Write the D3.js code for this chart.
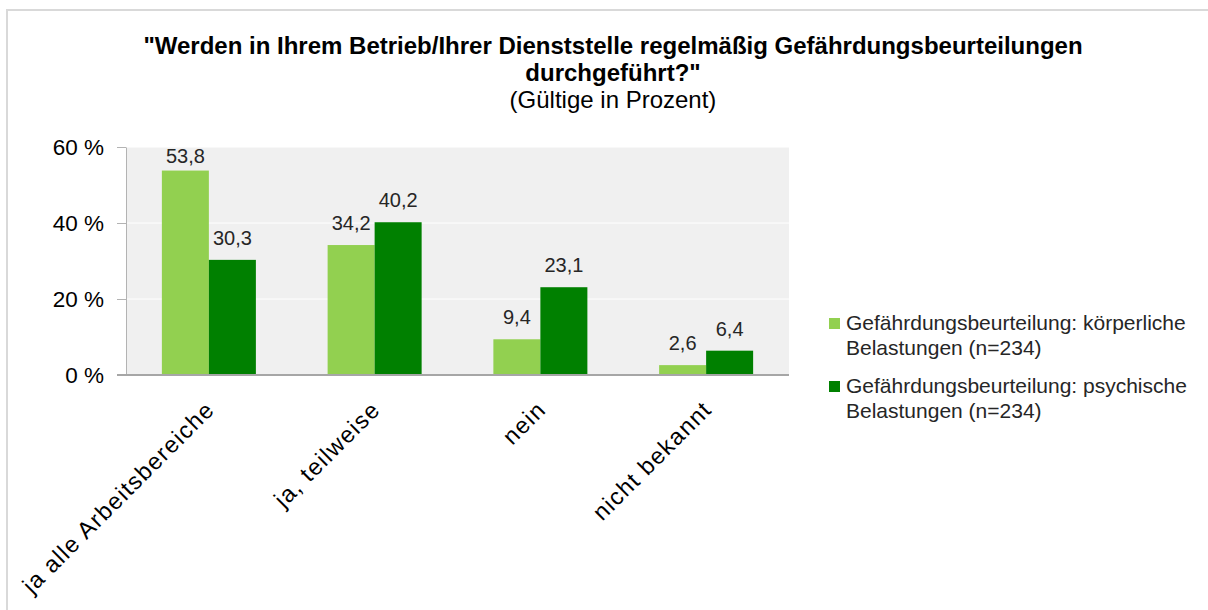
<!DOCTYPE html>
<html>
<head>
<meta charset="utf-8">
<script src="https://cdn.jsdelivr.net/npm/d3@7"></script>
<style>
  html, body { margin: 0; padding: 0; background: #ffffff; }
  svg { display: block; font-family: "Liberation Sans", Arial, sans-serif; }
</style>
</head>
<body>
<svg id="chart" width="1208" height="610"></svg>
<script>
// ---- data ----
const categories = ["ja alle Arbeitsbereiche", "ja, teilweise", "nein", "nicht bekannt"];
const seriesKeys = ["koerperlich", "psychisch"];
const koerperlich = [53.8, 34.2, 9.4, 2.6];
const psychisch = [30.3, 40.2, 23.1, 6.4];
const yTicks = [0, 20, 40, 60];
const legendLines = [
  ["Gefährdungsbeurteilung: körperliche", "Belastungen (n=234)"],
  ["Gefährdungsbeurteilung: psychische", "Belastungen (n=234)"]
];
const titleLines = ["\"Werden in Ihrem Betrieb/Ihrer Dienststelle regelmäßig Gefährdungsbeurteilungen", "durchgeführt?\""];
const subtitle = "(Gültige in Prozent)";
const colors = ["#92d050", "#008000"];

const seriesValues = [koerperlich, psychisch];

const svg = d3.select("#chart");

// outer frame
svg.append("rect").attr("x", 7).attr("y", 10).attr("width", 1230).attr("height", 640)
  .attr("fill", "#ffffff").attr("stroke", "#d9d9d9").attr("stroke-width", 2);

// plot geometry
const plot = { left: 126, right: 789, top: 147, bottom: 375 };

const y = d3.scaleLinear().domain([0, 60]).range([plot.bottom, plot.top]);
const x0 = d3.scaleBand().domain(categories).range([plot.left, plot.right]).padding(0);
const x1 = d3.scaleBand().domain(seriesKeys).range([0, x0.bandwidth()]).paddingInner(0).paddingOuter(0.763);

// plot background
svg.append("rect").attr("x", plot.left).attr("y", plot.top)
  .attr("width", plot.right - plot.left).attr("height", plot.bottom - plot.top)
  .attr("fill", "#f0f0f0");

// gridlines
svg.append("g").selectAll("line").data(yTicks.filter(d => d > 0)).join("line")
  .attr("x1", plot.left).attr("x2", plot.right)
  .attr("y1", d => y(d)).attr("y2", d => y(d))
  .attr("stroke", "#ffffff").attr("stroke-width", 1);

// y axis
const yAxis = svg.append("g").attr("transform", `translate(${plot.left},0)`)
  .call(d3.axisLeft(y).tickValues(yTicks).tickSize(9).tickSizeOuter(0).tickPadding(13).tickFormat(d => d + " %"));
yAxis.select(".domain").attr("stroke", "#b3b3b3");
yAxis.selectAll(".tick line").attr("stroke", "#b3b3b3");
yAxis.selectAll(".tick text").attr("font-size", "22.5px").attr("fill", "#000000")
  .attr("font-family", "Liberation Sans, Arial, sans-serif");

// bars
const fmt = v => d3.format(".1f")(v).replace(".", ",");
const groups = svg.append("g").selectAll("g").data(categories).join("g")
  .attr("transform", d => `translate(${x0(d)},0)`);

groups.selectAll("rect").data((c, i) => seriesKeys.map((k, s) => ({ key: k, s, v: seriesValues[s][i] })))
  .join("rect")
  .attr("x", d => x1(d.key)).attr("width", x1.bandwidth())
  .attr("y", d => y(d.v)).attr("height", d => y(0) - y(d.v))
  .attr("fill", d => colors[d.s]);

groups.selectAll("text.lbl").data((c, i) => seriesKeys.map((k, s) => ({ key: k, s, v: seriesValues[s][i] })))
  .join("text").attr("class", "lbl")
  .attr("x", d => x1(d.key) + x1.bandwidth() / 2)
  .attr("y", d => Math.max(y(d.v) - 15, plot.top + 16))
  .attr("text-anchor", "middle")
  .attr("font-size", "20px").attr("fill", "#262626")
  .text(d => fmt(d.v));

// x axis
const xAxis = svg.append("g").attr("transform", `translate(0,${plot.bottom})`)
  .call(d3.axisBottom(x0).tickSize(0).tickSizeOuter(0));
xAxis.select(".domain").attr("stroke", "#a6a6a6").attr("stroke-width", 2)
  .attr("d", `M${plot.left - 9},0H${plot.right}`);
xAxis.selectAll(".tick text")
  .attr("y", 0).attr("dy", 0)
  .attr("text-anchor", "end")
  .attr("letter-spacing", "1.3px")
  .attr("transform", "translate(7,36) rotate(-45)")
  .attr("font-size", "23.5px").attr("fill", "#000000")
  .attr("font-family", "Liberation Sans, Arial, sans-serif");

// title
const cx = 613;
const t1 = svg.append("text").attr("x", cx).attr("y", 54).attr("text-anchor", "middle")
  .attr("font-size", "24px").attr("font-weight", "bold").attr("fill", "#000000")
  .text(titleLines[0]);
const targetW = 942;
if (t1.node().getComputedTextLength() > targetW) {
  t1.attr("textLength", targetW).attr("lengthAdjust", "spacingAndGlyphs");
}
svg.append("text").attr("x", cx).attr("y", 81).attr("text-anchor", "middle")
  .attr("font-size", "24px").attr("font-weight", "bold").attr("fill", "#000000")
  .text(titleLines[1]);
svg.append("text").attr("x", cx).attr("y", 108).attr("text-anchor", "middle")
  .attr("font-size", "24px").attr("fill", "#000000")
  .text(subtitle);

// legend
const legend = svg.append("g");
const legendTop = [330, 393];
legendLines.forEach((lines, i) => {
  legend.append("rect").attr("x", 829).attr("y", legendTop[i] - 12).attr("width", 11).attr("height", 11)
    .attr("fill", colors[i]);
  lines.forEach((ln, j) => {
    legend.append("text").attr("x", 846).attr("y", legendTop[i] + j * 25)
      .attr("font-size", "21px").attr("fill", "#262626").text(ln);
  });
});
</script>
</body>
</html>
